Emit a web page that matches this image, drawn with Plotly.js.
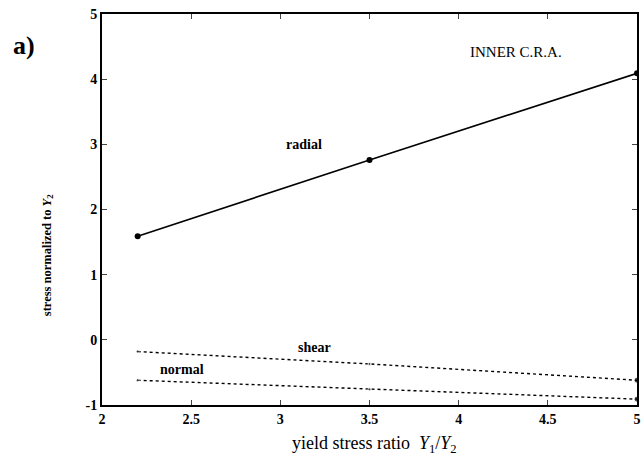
<!DOCTYPE html>
<html><head><meta charset="utf-8">
<script src="https://cdn.plot.ly/plotly-3.0.1.min.js"></script>
<style>body{margin:0;background:#fff}</style>
</head><body>
<div id="chart" style="width:643px;height:461px"></div>
<script>
const xRatio = [2.2, 3.5, 5];
const radial = [1.59, 2.76, 4.09];
const shear = [-0.18, -0.37, -0.62];
const normal = [-0.62, -0.76, -0.91];
const xTicks = [2, 2.5, 3, 3.5, 4, 4.5, 5];
const xTickText = ['2', '2.5', '3', '3.5', '4', '4.5', '5'];
const yTicks = [-1, 0, 1, 2, 3, 4, 5];
const yTickText = ['-1', '0', '1', '2', '3', '4', '5'];

const font = {family: 'Liberation Serif, Times New Roman, serif', color: '#000'};

const traces = [
  {x: xRatio, y: radial, mode: 'lines+markers', line: {color: '#000', width: 1.6},
   marker: {color: '#000', size: 6}},
  {x: xRatio, y: shear, mode: 'lines+markers', line: {color: '#000', width: 1.4, dash: 'dot'},
   marker: {color: '#000', size: [3, 3, 6]}},
  {x: xRatio, y: normal, mode: 'lines+markers', line: {color: '#000', width: 1.4, dash: 'dot'},
   marker: {color: '#000', size: [3, 3, 6]}}
];

const layout = {
  width: 643, height: 461,
  margin: {l: 102, r: 6, t: 14, b: 56},
  paper_bgcolor: '#fff', plot_bgcolor: '#fff',
  showlegend: false,
  font: Object.assign({size: 13}, font),
  xaxis: {range: [2, 5], tickvals: xTicks, ticktext: xTickText, ticks: 'inside', ticklen: 5,
    showline: true, linecolor: '#000', linewidth: 2, mirror: 'ticks', showgrid: false, zeroline: false,
    tickfont: Object.assign({size: 14, weight: 'bold'}, font)},
  yaxis: {range: [-1, 5], tickvals: yTicks, ticktext: yTickText, ticks: 'inside', ticklen: 5,
    showline: true, linecolor: '#000', linewidth: 2, mirror: 'ticks', showgrid: false, zeroline: false,
    tickfont: Object.assign({size: 14, weight: 'bold'}, font)},
  annotations: [
    {xref: 'paper', yref: 'paper', x: 0.51, y: -0.102, xanchor: 'center', yanchor: 'middle',
     text: 'yield stress ratio  <i>Y</i><sub>1</sub>/<i>Y</i><sub>2</sub>', showarrow: false,
     font: Object.assign({size: 18}, font)},
    {xref: 'paper', yref: 'paper', x: -0.101, y: 0.383, xanchor: 'center', yanchor: 'middle',
     textangle: -90, text: 'stress normalized to <i>Y</i><sub>2</sub>', showarrow: false,
     font: Object.assign({size: 12.5, weight: 'bold'}, font)},
    {xref: 'paper', yref: 'paper', x: -0.146, y: 0.92, xanchor: 'center', yanchor: 'middle',
     text: 'a)', showarrow: false, font: Object.assign({size: 26, weight: 'bold'}, font)},
    {xref: 'x', yref: 'y', x: 4.32, y: 4.41, text: 'INNER C.R.A.', showarrow: false,
     font: Object.assign({size: 15}, font)},
    {xref: 'x', yref: 'y', x: 3.13, y: 3.0, text: 'radial', showarrow: false,
     font: Object.assign({size: 14, weight: 'bold'}, font)},
    {xref: 'x', yref: 'y', x: 3.19, y: -0.12, text: 'shear', showarrow: false,
     font: Object.assign({size: 14, weight: 'bold'}, font)},
    {xref: 'x', yref: 'y', x: 2.45, y: -0.45, text: 'normal', showarrow: false,
     font: Object.assign({size: 14, weight: 'bold'}, font)}
  ]
};
Plotly.newPlot('chart', traces, layout, {displayModeBar: false, staticPlot: true});
</script>
</body></html>
